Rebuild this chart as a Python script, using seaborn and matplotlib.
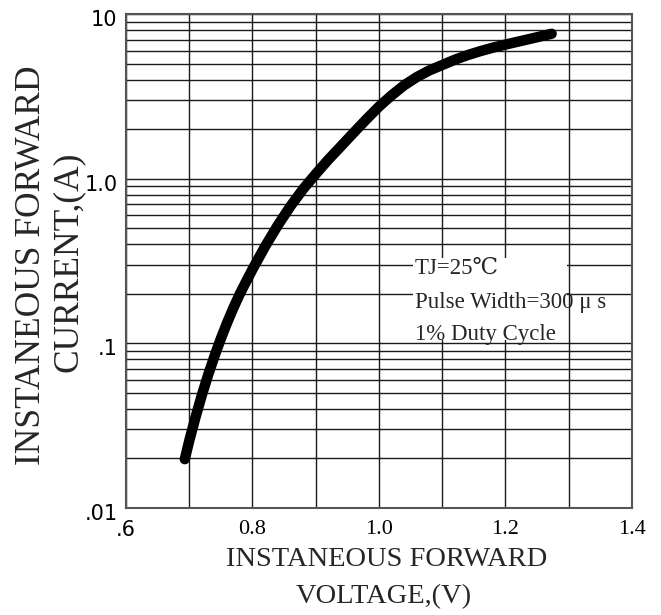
import matplotlib
matplotlib.use("Agg")
import matplotlib.pyplot as plt
import matplotlib.transforms as mtransforms
import seaborn as sns
import pandas as pd
import numpy as np
from matplotlib.patches import Rectangle
from matplotlib.ticker import FixedLocator, NullFormatter, LogLocator

# ---- data ----
voltage = [0.693, 0.700, 0.710, 0.720, 0.730, 0.740, 0.750, 0.760, 0.770,
           0.780, 0.790, 0.800, 0.820, 0.840, 0.860, 0.880, 0.900, 0.920,
           0.940, 0.960, 0.980, 1.000, 1.020, 1.040, 1.060, 1.080, 1.100,
           1.120, 1.140, 1.160, 1.180, 1.200, 1.240, 1.273]
current = [0.0198, 0.0256, 0.0357, 0.0486, 0.0646, 0.0839, 0.107, 0.134,
           0.165, 0.200, 0.238, 0.282, 0.389, 0.522, 0.682, 0.867, 1.07,
           1.31, 1.58, 1.91, 2.30, 2.75, 3.22, 3.71, 4.16, 4.57, 4.92,
           5.30, 5.65, 5.97, 6.27, 6.55, 7.11, 7.62]
x_ticks = [0.6, 0.8, 1.0, 1.2, 1.4]
x_tick_labels = [".6", "0.8", "1.0", "1.2", "1.4"]
y_ticks = [0.01, 0.1, 1.0, 10.0]
y_tick_labels = [".01", ".1", "1.0", "10"]
notes = ["TJ=25\u2103", "Pulse Width=300 \u03bc s", "1% Duty Cycle"]

df = pd.DataFrame({"V": voltage, "I": current})

sns.set_style("white")
serif = ["Liberation Serif", "DejaVu Serif"]
sans = ["DejaVu Sans"]

fig = plt.figure(figsize=(6.61, 6.15), dpi=100)
ax = fig.add_axes([0.1906, 0.174, 0.7655, 0.8027])

sns.lineplot(data=df, x="V", y="I", ax=ax, color="black", linewidth=7.5,
             solid_capstyle="round", solid_joinstyle="round", zorder=5)
ax.set_yscale("log")
ax.set_xlim(0.6, 1.4)
ax.set_ylim(0.01, 10)

# grid
ax.xaxis.set_major_locator(FixedLocator(x_ticks))
ax.xaxis.set_minor_locator(FixedLocator(np.arange(0.7, 1.35, 0.2)))
ax.yaxis.set_major_locator(FixedLocator(y_ticks))
ax.yaxis.set_minor_locator(LogLocator(base=10, subs=np.arange(2, 10)))
ax.yaxis.set_minor_formatter(NullFormatter())
ax.grid(True, which="both", color="#1a1a1a", linewidth=1.0, zorder=1)
ax.set_axisbelow(True)
ax.tick_params(which="both", length=0, labelcolor="black")
ax.tick_params(axis="y", pad=6)
ax.tick_params(axis="x", pad=9)

ax.set_xticklabels(x_tick_labels)
ax.set_yticklabels(y_tick_labels)
offset = mtransforms.ScaledTranslation(0, -4 / 100, fig.dpi_scale_trans)
for lab in ax.get_yticklabels():
    lab.set_fontfamily(sans)
    lab.set_fontsize(15)
    lab.set_color("black")
    lab.set_transform(lab.get_transform() + offset)
for i, lab in enumerate(ax.get_xticklabels()):
    lab.set_color("black")
    if x_tick_labels[i].startswith("."):
        lab.set_fontfamily(sans)
        lab.set_fontsize(15)
    else:
        lab.set_fontfamily(serif)
        lab.set_fontsize(16)
ax.set_xlabel("")
ax.set_ylabel("")

for s in ax.spines.values():
    s.set_color("#555555")
    s.set_linewidth(1.5)
    s.set_visible(True)

# white box behind notes
ax.add_patch(Rectangle((1.053, 0.105), 1.297 - 1.053, 0.33 - 0.105,
                       facecolor="white", edgecolor="none", zorder=3))

W, H = 661.0, 615.0
base_y = [274, 308, 340]
for t, by in zip(notes, base_y):
    fig.text(415 / W, 1 - by / H, t, family=serif, fontsize=16.5,
             ha="left", va="baseline", zorder=10)

# axis labels
fig.text(387 / W, 1 - 560 / H, "INSTANEOUS FORWARD", family=serif,
         fontsize=20.5, ha="center", va="center")
fig.text(384 / W, 1 - 597 / H, "VOLTAGE,(V)", family=serif,
         fontsize=20.5, ha="center", va="center")
fig.text(32 / W, 1 - 265 / H, "INSTANEOUS FORWARD", family=serif,
         fontsize=25.5, ha="center", va="center", rotation=90)
fig.text(68 / W, 1 - 262 / H, "CURRENT,(A)", family=serif,
         fontsize=25.5, ha="center", va="center", rotation=90)

fig.savefig("out.png", dpi=100)
